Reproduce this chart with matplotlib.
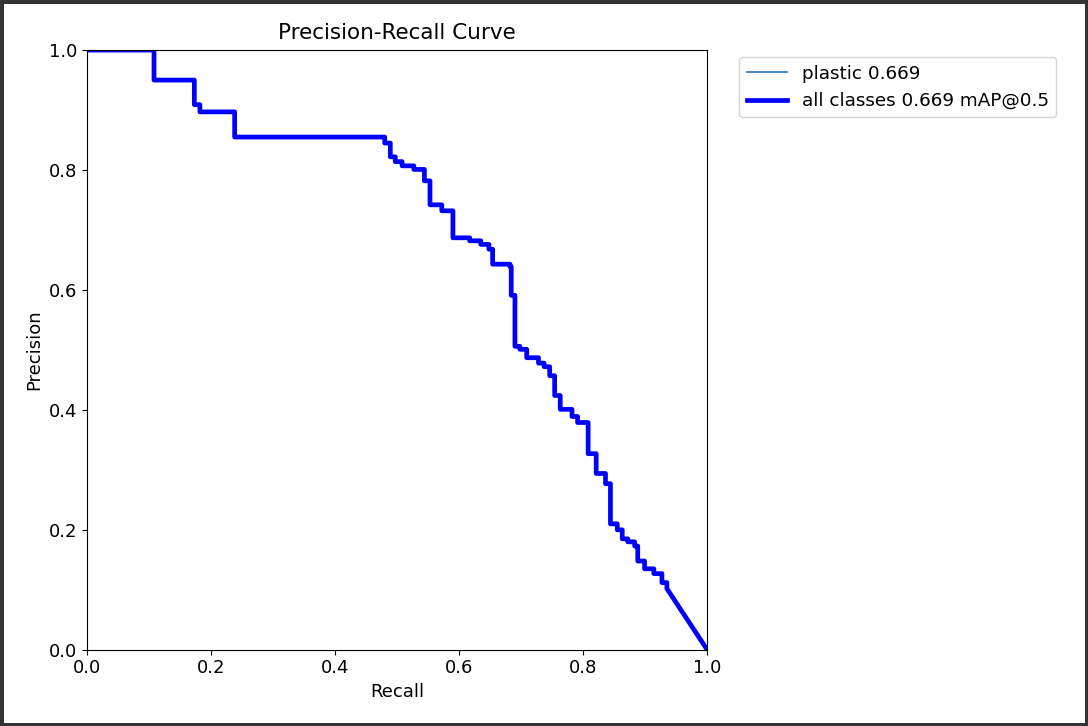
import numpy as np
import matplotlib
matplotlib.use('Agg')
import matplotlib.pyplot as plt

# step points of the PR curve (recall where precision drops, precision after drop)
recall = [0.0, 0.108, 0.173, 0.182, 0.238, 0.480, 0.489, 0.497, 0.508, 0.527,
          0.544, 0.553, 0.572, 0.590, 0.617, 0.635, 0.648, 0.654, 0.682, 0.684,
          0.690, 0.698, 0.709, 0.728, 0.737, 0.746, 0.754, 0.763, 0.782, 0.791,
          0.808, 0.821, 0.836, 0.844, 0.855, 0.863, 0.872, 0.883, 0.888, 0.899,
          0.914, 0.927, 0.935]
precision = [1.0, 0.950, 0.909, 0.897, 0.855, 0.845, 0.822, 0.814, 0.807, 0.801,
             0.782, 0.742, 0.732, 0.687, 0.682, 0.676, 0.668, 0.643, 0.639, 0.591,
             0.506, 0.501, 0.487, 0.478, 0.472, 0.457, 0.424, 0.401, 0.389, 0.379,
             0.327, 0.294, 0.277, 0.210, 0.200, 0.185, 0.180, 0.173, 0.148, 0.135,
             0.127, 0.112, 0.102]
# final linear tail
tail_r = [1.0]
tail_p = [0.0]

class_name = 'plastic'
ap = 0.669

# build step vertices: horizontal then vertical drop
xs = list(np.repeat(recall, 2)[1:]) + tail_r
ys = list(np.repeat(precision, 2)[:-1]) + tail_p

fig = plt.figure(figsize=(10.88, 7.26), dpi=100)
fig.patch.set_edgecolor('#333333')
fig.patch.set_linewidth(5)
ax = fig.add_axes([0.080, 0.105, 0.570, 0.826])

ax.plot(xs, ys, linewidth=1.2, label='%s %.3f' % (class_name, ap))
ax.plot(xs, ys, linewidth=3.4, color='blue', label='all classes %.3f mAP@0.5' % ap)

ax.set_xlabel('Recall', fontsize=13)
ax.set_ylabel('Precision', fontsize=13)
ax.set_xlim(0, 1)
ax.set_ylim(0, 1)
ax.tick_params(labelsize=13)
ax.set_title('Precision-Recall Curve', fontsize=15.5, pad=8)
ax.legend(bbox_to_anchor=(1.04, 1), loc='upper left', fontsize=13.2,
          handlelength=2.2, labelspacing=0.5, borderaxespad=0.4)

fig.savefig('out.png', dpi=100)
